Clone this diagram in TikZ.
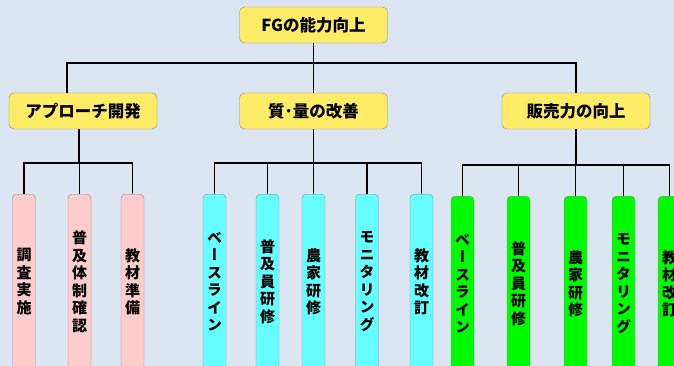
\documentclass[tikz,border=0pt]{standalone}
\usepackage{fontspec}
\newfontfamily\jpfont{Noto Sans CJK JP}
\newfontfamily\jpvert[RawFeature=+vert]{Noto Sans CJK JP}
\definecolor{bgblue}{RGB}{220,230,242}
\definecolor{headyellow}{RGB}{255,236,102}
\definecolor{leafpink}{RGB}{255,204,204}
\definecolor{leafcyan}{RGB}{102,255,255}
\definecolor{leafgreen}{RGB}{0,250,0}
\definecolor{boxgray}{RGB}{140,140,140}
\usetikzlibrary{calc}

\begin{document}
\begin{tikzpicture}[
  x=1pt, y=-1pt,
  headbox/.style={draw=boxgray, fill=headyellow, rounded corners=5pt, minimum width=148pt, minimum height=36pt, inner sep=0pt, font=\jpfont\bfseries\fontsize{16.5}{18}\selectfont},
  leafbox/.style={draw=boxgray, rounded corners=4pt, anchor=north, minimum width=23pt, minimum height=175pt, inner sep=0pt, align=center, font=\jpvert\bfseries\fontsize{15}{17.5}\selectfont},
  link/.style={line width=1.8pt}
]
  \useasboundingbox (0,0) rectangle (674,366);
  \clip (0,0) rectangle (674,366);
  \fill[bgblue] (0,0) rectangle (674,366);

  % top and second level
  \node[headbox] (fg) at (313.5,25) {FGの能力向上};
  \node[headbox] (appr) at (83,111) {アプローチ開発};
  \node[headbox] (quality) at (313.5,111) {質･量の改善};
  \node[headbox] (sales) at (576,111) {販売力の向上};

  % leaves
  \node[leafbox, fill=leafpink] (a1) at (24,194) {調\\査\\実\\施};
  \node[leafbox, fill=leafpink] (a2) at (79.5,194) {普\\及\\体\\制\\確\\認};
  \node[leafbox, fill=leafpink] (a3) at (132.5,194) {教\\材\\準\\備};

  \node[leafbox, fill=leafcyan] (b1) at (214.5,194) {ベ\\ー\\ス\\ラ\\イ\\ン};
  \node[leafbox, fill=leafcyan] (b2) at (267.5,194) {普\\及\\員\\研\\修};
  \node[leafbox, fill=leafcyan] (b3) at (313.5,194) {農\\家\\研\\修};
  \node[leafbox, fill=leafcyan] (b4) at (367,194) {モ\\ニ\\タ\\リ\\ン\\グ};
  \node[leafbox, fill=leafcyan] (b5) at (421.5,194) {教\\材\\改\\訂};

  \node[leafbox, fill=leafgreen] (c1) at (462.5,196) {ベ\\ー\\ス\\ラ\\イ\\ン};
  \node[leafbox, fill=leafgreen] (c2) at (518.5,196) {普\\及\\員\\研\\修};
  \node[leafbox, fill=leafgreen] (c3) at (575.5,196) {農\\家\\研\\修};
  \node[leafbox, fill=leafgreen] (c4) at (623.5,196) {モ\\ニ\\タ\\リ\\ン\\グ};
  \node[leafbox, fill=leafgreen] (c5) at (669.5,196) {教\\材\\改\\訂};

  % connectors
  \coordinate (jleft) at (67,63);
  \coordinate (jright) at (576,63);
  \draw[link] (fg.south) -- (fg.south |- jleft);
  \draw[link] (appr.north -| jleft) -- (jleft) -- (jright) -- (sales.north);
  \draw[link] (quality.north) -- (quality.north |- jleft);

  \coordinate (ja) at (79,163);
  \draw[link] (appr.south -| ja) -- (ja);
  \draw[link] (a1.north) -- (a1.north |- ja) -- (a3.north |- ja) -- (a3.north);
  \draw[link] (a2.north) -- (a2.north |- ja);

  \coordinate (jb) at (313,163);
  \draw[link] (quality.south) -- (quality.south |- jb);
  \draw[link] (b1.north) -- (b1.north |- jb) -- (b5.north |- jb) -- (b5.north);
  \draw[link] (b2.north) -- (b2.north |- jb);
  \draw[link] (b3.north) -- (b3.north |- jb);
  \draw[link] (b4.north) -- (b4.north |- jb);

  \coordinate (jc) at (576,165);
  \draw[link] (sales.south) -- (sales.south |- jc);
  \draw[link] (c1.north) -- (c1.north |- jc) -- (c5.north |- jc) -- (c5.north);
  \draw[link] (c2.north) -- (c2.north |- jc);
  \draw[link] (c3.north) -- (c3.north |- jc);
  \draw[link] (c4.north) -- (c4.north |- jc);
\end{tikzpicture}
\end{document}
